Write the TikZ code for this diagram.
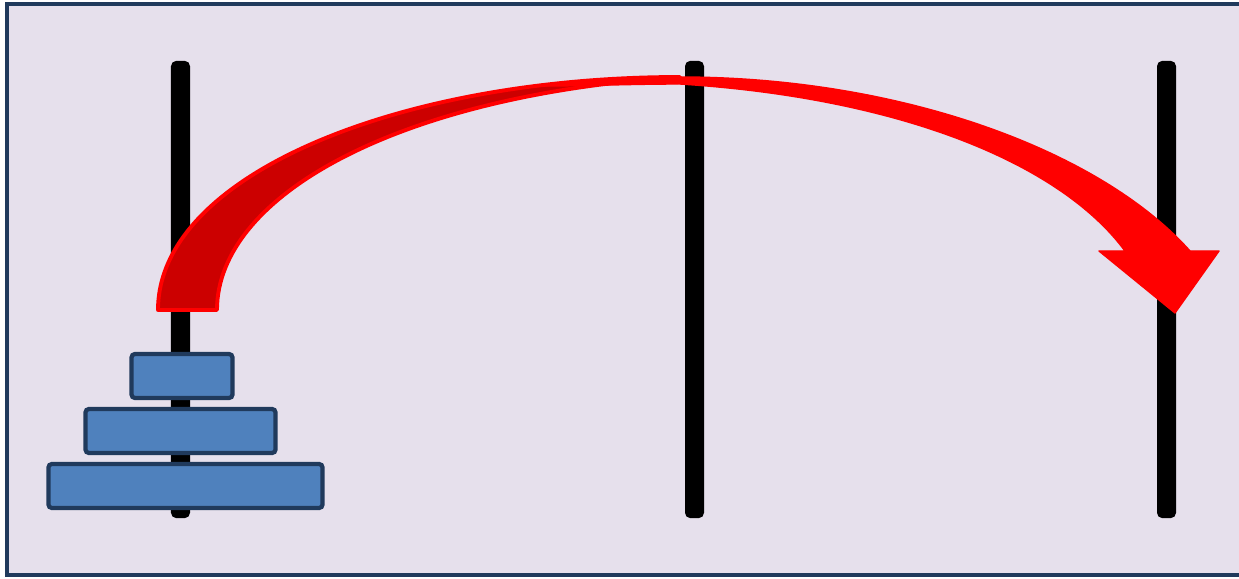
\documentclass[tikz,border=0pt]{standalone}
\usepackage{xcolor}
\definecolor{boardbg}{HTML}{E6E0EC}
\definecolor{framecol}{HTML}{203A5C}
\definecolor{diskfill}{HTML}{4F81BD}
\definecolor{arrowdark}{HTML}{CC0000}

\begin{document}
\begin{tikzpicture}[x=0.01cm, y=-0.01cm,
  peg/.style={fill=black, rounded corners=1.5pt, inner sep=0pt, outer sep=0pt, minimum width=0.19cm, minimum height=4.57cm},
  disk/.style={draw=framecol, line width=1.2pt, fill=diskfill, rounded corners=1pt, inner sep=0pt, outer sep=0pt, minimum height=0.44cm}]
  \clip (0,0) rectangle (1239,579);
  \draw[framecol, line width=1.2pt, fill=boardbg] (7,4) rectangle (1260,575);
  % the three pegs
  \node[peg] (peg1) at (180.5,289.5) {};
  \node[peg] (peg2) at (694.5,289.5) {};
  \node[peg] (peg3) at (1166.5,289.5) {};
  % disks on the first peg
  \node[disk, minimum width=1.01cm] (small) at (182,376) {};
  \node[disk, minimum width=1.90cm] (medium) at (180.5,431) {};
  \node[disk, minimum width=2.74cm] (large) at (185.5,486) {};
  % curved arrow, back face
  \draw[red, line width=1.1pt, fill=arrowdark, line join=round]
    (158,310) .. controls (158,175) and (400,77) .. (680,77)
    .. controls (400,95) and (217,195) .. (217,310) -- cycle;
  % curved arrow, front face with head
  \filldraw[red, line width=0.4pt, line join=round]
    (540,86) .. controls (600,80) and (640,77) .. (680,77)
    .. controls (900,77) and (1100,150) .. (1190,251)
    -- (1219,251) -- (1175,313) -- (1099,251) -- (1125,251)
    .. controls (1060,163) and (900,98) .. (680,84)
    .. controls (630,84) and (590,86) .. (540,86) -- cycle;
\end{tikzpicture}
\end{document}
